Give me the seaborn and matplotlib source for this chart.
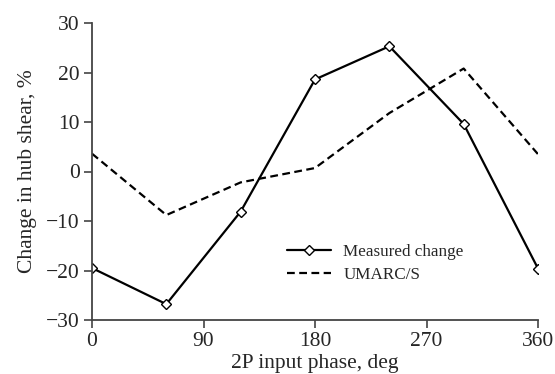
import matplotlib
matplotlib.use("Agg")
import matplotlib.pyplot as plt
import seaborn as sns
import pandas as pd

phase = [0, 60, 120, 180, 240, 300, 360]
measured = [-19.5, -26.8, -8.1, 18.6, 25.3, 9.6, -19.6]
umarc = [3.6, -8.8, -2.2, 0.7, 11.8, 20.8, 3.5]
xticks = [0, 90, 180, 270, 360]
yticks = [-30, -20, -10, 0, 10, 20, 30]

sns.set_style("ticks")
plt.rcParams['font.family'] = ['Liberation Serif', 'DejaVu Serif']

df = pd.DataFrame({"phase": phase, "Measured change": measured, "UMARC/S": umarc})

fig = plt.figure(figsize=(5.55, 3.74), dpi=100)
ax = fig.add_axes([92/555, 1 - 320/374, (538-92)/555, (320-23)/374])

sns.lineplot(data=df, x="phase", y="Measured change", ax=ax, color="black", lw=1.6,
             marker="D", markersize=5, markerfacecolor="white", markeredgecolor="black",
             markeredgewidth=1.0, label="Measured change")
sns.lineplot(data=df, x="phase", y="UMARC/S", ax=ax, color="black", lw=1.6,
             linestyle=(0, (3.5, 2)), label="UMARC/S")

ax.set_xlim(0, 360)
ax.set_ylim(-30, 30)
ax.set_xticks(xticks)
ax.set_yticks(yticks)
ax.set_yticklabels([str(v).replace('-', '\u2212') for v in yticks])
ax.tick_params(direction='out', length=6, width=1.2, color='#444444', labelsize=15.5, pad=3)
for s in ['left', 'bottom']:
    ax.spines[s].set_color('#444444')
    ax.spines[s].set_linewidth(1.3)
sns.despine(ax=ax)
ax.set_xlabel("2P input phase, deg", fontsize=15.5, labelpad=2)
ax.set_ylabel("Change in hub shear, %", fontsize=15.5, labelpad=6)

leg = ax.legend(loc='center left', bbox_to_anchor=(0.422, 0.19), frameon=False,
                fontsize=12.3, handlelength=2.6, handletextpad=0.7, labelspacing=0.45,
                borderaxespad=0)

fig.savefig("out.png", dpi=100)
